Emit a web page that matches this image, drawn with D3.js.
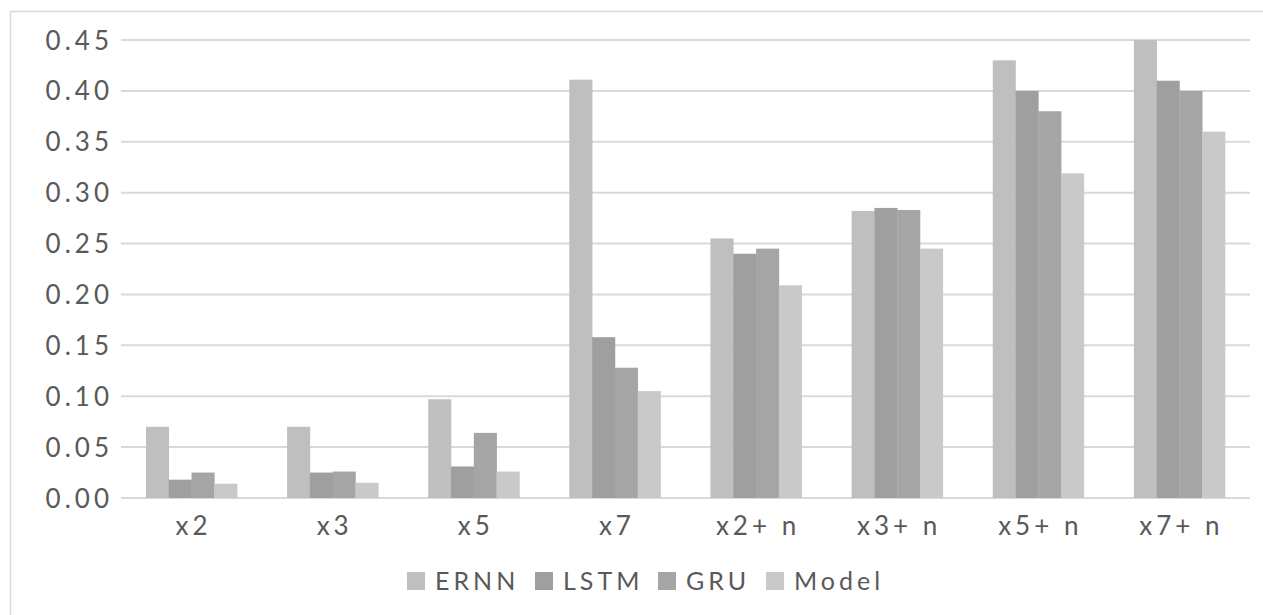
<!DOCTYPE html>
<html><head><meta charset="utf-8">
<script src="https://cdn.jsdelivr.net/npm/d3@7"></script>
<style>
html,body{margin:0;padding:0;background:#fff;}
svg text{font-family:Lato,"Open Sans",sans-serif;fill:#595959;}
</style></head>
<body>
<svg id="c" width="1263" height="615"></svg>
<script>
const categories = ["x2","x3","x5","x7","x2+ n","x3+ n","x5+ n","x7+ n"];
const seriesNames = ["ERNN","LSTM","GRU","Model"];
const ernn  = [0.070,0.070,0.097,0.411,0.255,0.282,0.430,0.450];
const lstm  = [0.018,0.025,0.031,0.158,0.240,0.285,0.400,0.410];
const gru   = [0.025,0.026,0.064,0.128,0.245,0.283,0.380,0.400];
const model = [0.014,0.015,0.026,0.105,0.209,0.245,0.319,0.360];
const yTicks = [0,0.05,0.10,0.15,0.20,0.25,0.30,0.35,0.40,0.45];
const colors = ["#bfbfbf","#9f9f9f","#a5a5a5","#c9c9c9"];

const values = [ernn,lstm,gru,model];
const svg = d3.select("#c");

svg.append("rect").attr("x",10.5).attr("y",11.5).attr("width",1263).attr("height",615)
  .attr("fill","none").attr("stroke","#d9d9d9").attr("stroke-width",1.5);

const mLeft=121, mRight=1250, mTop=40, mBottom=498;
const x = d3.scaleBand().domain(categories).range([mLeft,mRight]).paddingInner(0.354).paddingOuter(0.177);
const xs = d3.scaleBand().domain(seriesNames).range([0,x.bandwidth()]);
const y = d3.scaleLinear().domain([0,0.45]).range([mBottom,mTop]);

svg.append("g").selectAll("line").data(yTicks).join("line")
  .attr("x1",mLeft).attr("x2",mRight)
  .attr("y1",d=>y(d)).attr("y2",d=>y(d))
  .attr("stroke","#d9d9d9").attr("stroke-width",2);

const g = svg.append("g");
categories.forEach((c,i)=>{
  seriesNames.forEach((s,j)=>{
    g.append("rect")
      .attr("x",x(c)+xs(s))
      .attr("width",xs.bandwidth()+0.3)
      .attr("y",y(values[j][i]))
      .attr("height",y(0)-y(values[j][i]))
      .attr("fill",colors[j]);
  });
});

const yAxis = d3.axisLeft(y).tickValues(yTicks).tickFormat(d3.format(".2f")).tickSize(0).tickPadding(0);
const ya = svg.append("g").attr("transform",`translate(${mLeft-8},0)`).call(yAxis);
ya.select(".domain").remove();
ya.selectAll("text").attr("font-size",26).attr("letter-spacing","4px")
  .style("font-family","Lato,sans-serif").attr("fill","#595959").attr("dy","0.35em");

const xAxis = d3.axisBottom(x).tickSize(0).tickPadding(0);
const xa = svg.append("g").attr("transform",`translate(0,${mBottom})`).call(xAxis);
xa.select(".domain").remove();
xa.selectAll("text").attr("font-size",26).attr("letter-spacing","4px")
  .style("font-family","Lato,sans-serif").attr("fill","#595959").attr("y",37).attr("dy",0)
  .attr("dx","2px");

const legX = [407,535,658,766];
const leg = svg.append("g");
seriesNames.forEach((s,j)=>{
  leg.append("rect").attr("x",legX[j]).attr("y",572).attr("width",18).attr("height",18).attr("fill",colors[j]);
  leg.append("text").attr("x",legX[j]+28).attr("y",590).attr("font-size",25)
    .attr("letter-spacing","4px").text(s);
});
</script>
</body></html>
